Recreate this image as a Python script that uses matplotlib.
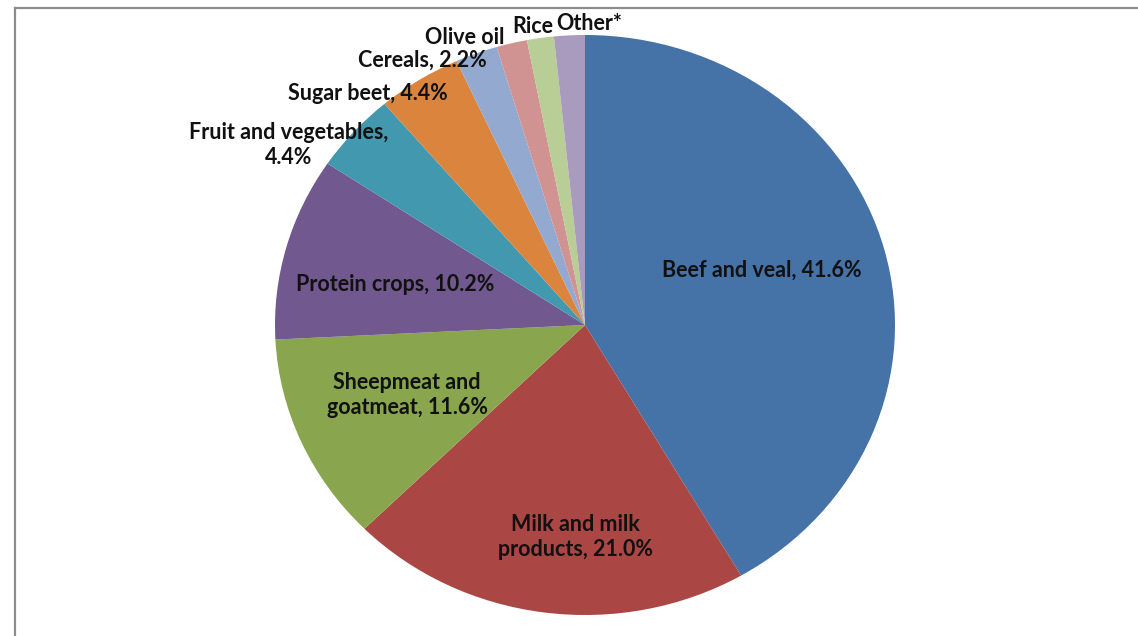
#Pie chart: allocation of direct aid by sector

import matplotlib.pyplot as plt
from matplotlib.lines import Line2D

#data
sectors = ['Beef and veal', 'Milk and milk products', 'Sheepmeat and goatmeat',
           'Protein crops', 'Fruit and vegetables', 'Sugar beet', 'Cereals',
           'Olive oil', 'Rice', 'Other*']
shares = [41.6, 21.0, 11.6, 10.2, 4.4, 4.4, 2.2, 1.6, 1.4, 1.6]
label_texts = ['Beef and veal, 41.6%', 'Milk and milk\nproducts, 21.0%',
               'Sheepmeat and\ngoatmeat, 11.6%', 'Protein crops, 10.2%',
               'Fruit and vegetables,\n4.4%', 'Sugar beet, 4.4%', 'Cereals, 2.2%',
               'Olive oil', 'Rice', 'Other*']

colors = ['#4572A7', '#AA4643', '#89A54E', '#71588F', '#4198AF',
          '#DB843D', '#93A9CF', '#D19392', '#B9CD96', '#A99BBD']

#label positions relative to pie centre (unit radius)
label_pos = [(0.571, 0.19), (-0.032, -0.731), (-0.574, -0.241), (-0.613, 0.141),
             (-0.955, 0.621), (-0.70, 0.80), (-0.523, 0.914), (-0.387, 0.993),
             (-0.168, 1.031), (0.013, 1.038)]

W, H = 1138, 636
fig = plt.figure(figsize=(W / 100, H / 100), dpi=100)

#grey chart frame, top and left only (rest runs off the picture)
fx, fy = 15 / W, 1 - 8 / H
fig.lines.append(Line2D([fx, 1.0], [fy, fy], transform=fig.transFigure,
                        color='#8c8c8c', linewidth=1.6))
fig.lines.append(Line2D([fx, fx], [0.0, fy], transform=fig.transFigure,
                        color='#8c8c8c', linewidth=1.6))

ax = fig.add_axes([0, 0, 1, 1])
ax.pie(shares, colors=colors, startangle=90, counterclock=False,
       wedgeprops=dict(linewidth=0))

#pie is a bit wider than tall in the reference
cx, cy, rx, ry = 585, 325, 310, 290
ax.set_aspect('auto')
ax.set_xlim(-cx / rx, (W - cx) / rx)
ax.set_ylim(-(H - cy) / ry, cy / ry)
ax.axis('off')

for txt, (x, y) in zip(label_texts, label_pos):
    ax.text(x, y, txt, ha='center', va='center', fontsize=15.5,
            fontweight='bold', family='Lato', color='#111111', linespacing=1.22)

plt.savefig('out.png', dpi=100)
